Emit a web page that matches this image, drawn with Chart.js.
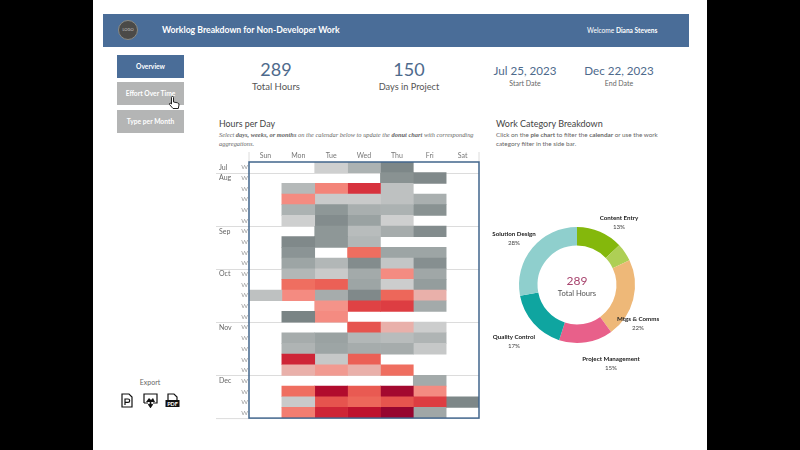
<!DOCTYPE html>
<html>
<head>
<meta charset="utf-8">
<title>Worklog Breakdown</title>
<script src="https://cdn.jsdelivr.net/npm/chart.js@4"></script>
<style>
html, body { margin: 0; padding: 0; background: #000; }
#page { position: absolute; left: 93px; top: 0; width: 614px; height: 450px; background: #fff; overflow: hidden; }
#stage { position: absolute; left: -93px; top: 0; width: 800px; height: 450px; font-family: Lato, sans-serif; color: #555; }
#stage div, #stage canvas, #stage svg { position: absolute; }
.c { transform: translateX(-50%); white-space: nowrap; text-align: center; }
.l { white-space: nowrap; }
.btn { left: 117px; width: 67px; height: 23px; line-height: 23px; text-align: center; color: #fff; font-weight: 700; font-size: 6.7px; background: #b4b5b5; }
.tag { font-size: 6.2px; line-height: 9px; color: #444; }
.tag b { color: #222; }
.note { font-size: 6.3px; color: #666; line-height: 9px; }
</style>
</head>
<body>
<div id="page"><div id="stage">
  <div style="left:103px;top:14px;width:586px;height:33px;background:#4a6d98"></div>
  <div style="left:118px;top:20px;width:18px;height:18px;border-radius:50%;background:#4b4a48;border:1.5px solid #8a8a84;color:#ccc;font-size:4px;line-height:18px;text-align:center">LOGO</div>
  <div class="l" style="left:162px;top:23px;color:#fff;font-weight:700;font-size:8.7px;line-height:14px">Worklog Breakdown for Non-Developer Work</div>
  <div class="l" style="left:587px;top:25px;color:#fff;font-size:6.6px;line-height:10px">Welcome <b>Diana Stevens</b></div>

  <div class="btn" style="top:55px;background:#4a6d98">Overview</div>
  <div class="btn" style="top:82px">Effort Over Time</div>
  <div class="btn" style="top:110px">Type per Month</div>
  <svg style="left:168px;top:96px" width="13" height="15" viewBox="0 0 13 15">
    <path d="M3.5 1.5 a1 1 0 0 1 2 0 V6 l4 .8 q1.8 .5 1.5 2.2 l-.7 3.5 H5 L1.5 8.5 q-.5-1.2 .8-1.3 L3.5 8 Z" fill="#fff" stroke="#222" stroke-width="1"/>
  </svg>

  <div class="c" style="left:150px;top:378px;font-size:7px;color:#666">Export</div>
  <svg style="left:120px;top:393px" width="14" height="15" viewBox="0 0 14 15">
    <path d="M2 1 H9 L12 4 V14 H2 Z" fill="#fff" stroke="#111" stroke-width="1.2"/>
    <path d="M5 12 V6 H8 a1.5 1.5 0 0 1 0 3.4 H5" fill="none" stroke="#111" stroke-width="1.2"/>
  </svg>
  <svg style="left:143px;top:393px" width="15" height="15" viewBox="0 0 15 15">
    <path d="M1 10 V1 H14 V10 H10 M5 10 H1" fill="#fff" stroke="#111" stroke-width="1.2"/>
    <path d="M3 9 L6 5 L8 7 L10 5 L12 9 Z" fill="#111"/>
    <path d="M7.5 8 V13 M5.5 11 L7.5 14 L9.5 11" fill="none" stroke="#111" stroke-width="1.5"/>
  </svg>
  <svg style="left:165px;top:393px" width="15" height="15" viewBox="0 0 15 15">
    <path d="M3 7 V1 H9 L12 4 V7" fill="#fff" stroke="#111" stroke-width="1.2"/>
    <rect x="0.5" y="7" width="14" height="7" fill="#111"/>
    <text x="7.5" y="12.7" text-anchor="middle" font-size="5.5" font-weight="700" fill="#fff" font-family="Lato">PDF</text>
  </svg>

  <div class="c" style="left:276px;top:57px;font-size:18px;line-height:24px;color:#4e6a8c">289</div>
  <div class="c" style="left:276px;top:80px;font-size:9.5px;line-height:14px">Total Hours</div>
  <div class="c" style="left:409px;top:57px;font-size:18px;line-height:24px;color:#4e6a8c">150</div>
  <div class="c" style="left:409px;top:80px;font-size:9.2px;line-height:14px">Days in Project</div>
  <div class="c" style="left:525px;top:62px;font-size:11.6px;line-height:17px;color:#4e6a8c">Jul 25, 2023</div>
  <div class="c" style="left:525px;top:78px;font-size:7px;line-height:10px;color:#666">Start Date</div>
  <div class="c" style="left:619px;top:62px;font-size:11.6px;line-height:17px;color:#4e6a8c">Dec 22, 2023</div>
  <div class="c" style="left:619px;top:78px;font-size:7px;line-height:10px;color:#666">End Date</div>

  <div class="l" style="left:219px;top:117px;font-size:8.8px;line-height:13px;color:#444">Hours per Day</div>
  <div class="l" style="left:219px;top:130px;font:italic 6.4px/9px 'Liberation Serif',serif;color:#666">Select <b>days, weeks, or months</b> on the calendar below to update the <b>donut chart</b> with corresponding<br>aggregations.</div>
  <div class="l" style="left:496px;top:117px;font-size:9px;line-height:13px;color:#444">Work Category Breakdown</div>
  <div class="l note" style="left:496px;top:130px">Click on the <b>pie chart</b> to filter the <b>calendar</b> or use the work<br>category filter in the side bar.</div>

  <canvas id="calendarChart" width="266" height="274" style="left:216px;top:149px"></canvas>
  <canvas id="donutChart" width="140" height="140" style="left:507px;top:215px"></canvas>

  <div class="c" style="left:577px;top:273px;font-size:12px;line-height:16px;color:#a8446e">289</div>
  <div class="c" style="left:577px;top:287px;font-size:7.6px;line-height:12px">Total Hours</div>

  <div class="c tag" style="left:619px;top:213px"><b>Content Entry</b><br>13%</div>
  <div class="c tag" style="left:514px;top:229px"><b>Solution Design</b><br>28%</div>
  <div class="c tag" style="left:638px;top:314px"><b>Mtgs &amp; Comms</b><br>22%</div>
  <div class="c tag" style="left:514px;top:332px"><b>Quality Control</b><br>17%</div>
  <div class="c tag" style="left:611px;top:354px"><b>Project Management</b><br>15%</div>
</div></div>

<script>
// calendar data, hours per day for every week row
var weekdays = ['Sun', 'Mon', 'Tue', 'Wed', 'Thu', 'Fri', 'Sat'];
var weekLabels = ['W','W','W','W','W','W','W','W','W','W','W','W','W','W','W','W','W','W','W','W','W','W','W','W'];
var monthLabels = ['Jul','Aug','','','','','Sep','','','','Oct','','','','','Nov','','','','','Dec','','',''];

var sunHours = [null,null,null,null,null,null,null,null,null,null,null,null,1.6,null,null,null,null,null,null,null,null,null,null,null];
var monHours = [null,null,1.45,2.8,1.3,1.9,null,0.55,0.75,1.05,1.4,3.2,2.8,null,0.45,null,1.2,1.35,4.4,2.3,null,3.2,1.8,3.0];
var tueHours = [1.9,null,2.9,1.8,0.8,0.6,0.8,0.8,null,1.4,1.8,3.4,1.2,2.7,2.8,null,1.0,1.05,1.75,2.6,null,4.9,3.6,4.4];
var wedHours = [1.3,null,4.2,1.8,1.25,1.0,1.5,1.4,3.2,0.6,1.15,1.05,0.55,3.9,null,3.6,1.4,1.2,3.4,2.3,null,3.5,3.3,4.7];
var thuHours = [0.5,0.7,1.6,1.6,1.3,1.9,1.2,null,1.05,1.7,2.8,1.85,3.3,4.0,null,2.3,1.5,1.2,null,3.2,null,5.1,3.6,5.3];
var friHours = [null,0.55,null,1.25,0.7,null,0.6,null,1.05,0.65,1.1,0.9,2.3,1.15,null,1.85,1.35,1.75,null,null,1.15,2.8,4.0,1.1];
var satHours = [null,null,null,null,null,null,null,null,null,null,null,null,null,null,null,null,null,null,null,null,null,null,0.5,null];
var hoursByDay = [sunHours, monHours, tueHours, wedHours, thuHours, friHours, satHours];

// donut data
var categories = ['Content Entry', 'Content Entry (other)', 'Mtgs & Comms', 'Project Management', 'Quality Control', 'Solution Design'];
var categoryShare = [13, 5, 22, 15, 17, 28];
var categoryColors = ['#84b80c', '#aecf55', '#eeb878', '#e8608a', '#0fa5a0', '#8fcfcd'];

// grey to red scale used by the calendar
var colorStops = [
    [0.45, [122, 132, 133]], [1.0, [154, 162, 162]], [1.5, [184, 188, 188]], [2.0, [212, 212, 212]],
    [2.25, [232, 180, 174]], [2.75, [245, 143, 133]], [3.25, [238, 106, 92]], [3.75, [227, 74, 72]],
    [4.25, [214, 47, 60]], [4.75, [187, 15, 44]], [5.3, [150, 5, 48]]
];

function hourColor(h) {
    if (h === null) return 'rgba(0,0,0,0)';
    var a = colorStops[0], b = colorStops[colorStops.length - 1];
    if (h <= a[0]) return 'rgb(' + a[1].join(',') + ')';
    if (h >= b[0]) return 'rgb(' + b[1].join(',') + ')';
    for (var i = 0; i < colorStops.length - 1; i++) {
        if (h >= colorStops[i][0] && h <= colorStops[i + 1][0]) {
            var t = (h - colorStops[i][0]) / (colorStops[i + 1][0] - colorStops[i][0]);
            var c = colorStops[i][1].map(function(v, k) {
                return Math.round(v + (colorStops[i + 1][1][k] - v) * t);
            });
            return 'rgb(' + c.join(',') + ')';
        }
    }
}

// month rules go under the cells, the blue frame goes on top
var calendarFrame = {
    id: 'calendarFrame',
    beforeDatasetsDraw: function(chart) {
        var ctx = chart.ctx, area = chart.chartArea;
        var rowH = (area.bottom - area.top) / weekLabels.length;
        ctx.save();
        ctx.strokeStyle = '#dcdcdc';
        ctx.lineWidth = 1;
        monthLabels.forEach(function(m, i) {
            if (i > 0 && m !== '') {
                var y = Math.round(area.top + i * rowH) + 0.5;
                ctx.beginPath();
                ctx.moveTo(0, y);
                ctx.lineTo(area.right, y);
                ctx.stroke();
            }
        });
        ctx.beginPath();
        ctx.moveTo(0, area.bottom + 0.5);
        ctx.lineTo(area.left, area.bottom + 0.5);
        ctx.stroke();
        [area.left, area.right].forEach(function(x) {
            ctx.beginPath();
            ctx.moveTo(x, 3);
            ctx.lineTo(x, area.top);
            ctx.stroke();
        });
        ctx.restore();
    },
    afterDatasetsDraw: function(chart) {
        var ctx = chart.ctx, area = chart.chartArea;
        ctx.save();
        ctx.strokeStyle = '#41658c';
        ctx.lineWidth = 1.5;
        ctx.strokeRect(area.left, area.top, area.right - area.left, area.bottom - area.top);
        ctx.restore();
    }
};

new Chart(document.getElementById('calendarChart').getContext('2d'), {
    type: 'bar',
    data: {
        labels: weekLabels,
        datasets: weekdays.map(function(day, d) {
            return {
                label: day,
                data: weekLabels.map(function() { return 1; }),
                backgroundColor: hoursByDay[d].map(hourColor),
                borderWidth: 0,
                barPercentage: 1,
                categoryPercentage: 1
            };
        })
    },
    options: {
        indexAxis: 'y',
        responsive: false,
        animation: false,
        layout: { padding: { left: 3, right: 3, bottom: 3 } },
        plugins: { legend: { display: false }, tooltip: { enabled: false } },
        scales: {
            x: { type: 'linear', stacked: true, min: 0, max: 7, display: false },
            xDays: {
                type: 'category', axis: 'x', position: 'top', labels: weekdays, offset: true,
                grid: { display: false, drawTicks: false }, border: { display: false },
                ticks: { color: '#777', padding: 2, maxRotation: 0, font: { family: 'Lato', size: 7 } },
                afterFit: function(s) { s.height = 13; }
            },
            y: {
                type: 'category', stacked: true, offset: true, weight: 1,
                grid: { display: false, drawTicks: false }, border: { display: false },
                ticks: { color: '#999', padding: 1, autoSkip: false, font: { family: 'Lato', size: 6.5 } },
                afterFit: function(s) { s.width = 9; }
            },
            yMonth: {
                type: 'category', axis: 'y', position: 'left', labels: monthLabels, offset: true, weight: 2,
                grid: { display: false, drawTicks: false }, border: { display: false },
                ticks: { color: '#666', padding: 0, autoSkip: false, crossAlign: 'far', font: { family: 'Lato', size: 7 } },
                afterFit: function(s) { s.width = 21; }
            }
        }
    },
    plugins: [calendarFrame]
});

new Chart(document.getElementById('donutChart').getContext('2d'), {
    type: 'doughnut',
    data: {
        labels: categories,
        datasets: [{ data: categoryShare, backgroundColor: categoryColors, borderWidth: 0 }]
    },
    options: {
        responsive: false,
        animation: false,
        cutout: '68%',
        layout: { padding: 12 },
        plugins: { legend: { display: false }, tooltip: { enabled: false } }
    }
});
</script>
</body>
</html>
